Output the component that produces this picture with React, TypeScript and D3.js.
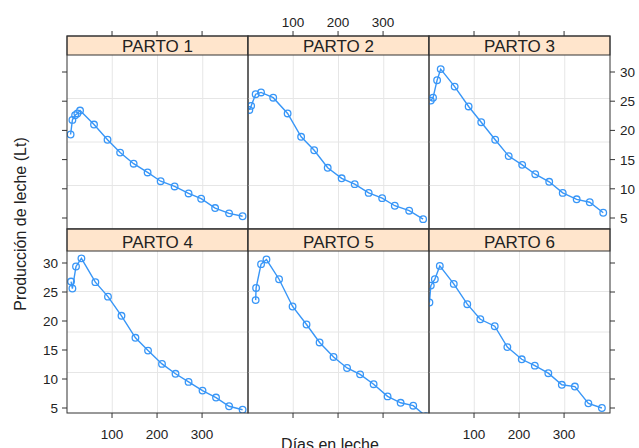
import React from "react";
import * as d3 from "d3";

// dias en leche / produccion (Lt) por parto
const parto1Dias = [8, 12, 18, 23, 29, 60, 90, 118, 148, 179, 208, 239, 270, 298, 329, 360, 390];
const parto1Leche = [19.3, 21.8, 22.6, 22.9, 23.4, 21.0, 18.4, 16.2, 14.3, 12.8, 11.3, 10.4, 9.2, 8.3, 6.7, 5.8, 5.3];
const parto2Dias = [3, 7, 17, 29, 56, 88, 118, 147, 177, 208, 237, 268, 298, 326, 358, 389];
const parto2Leche = [23.5, 24.2, 26.2, 26.5, 25.6, 22.9, 18.9, 16.6, 13.6, 11.8, 10.8, 9.3, 8.4, 7.1, 6.25, 4.8];
const parto3Dias = [4, 9, 18, 26, 57, 88, 116, 147, 177, 207, 236, 267, 297, 328, 357, 387];
const parto3Leche = [25.1, 25.6, 28.6, 30.5, 27.5, 24.1, 21.4, 18.4, 15.6, 14.1, 12.5, 11.2, 9.3, 8.2, 7.7, 5.9];
const parto4Dias = [9, 12, 20, 32, 63, 91, 121, 152, 180, 211, 241, 270, 301, 331, 360, 390];
const parto4Leche = [26.8, 25.6, 29.4, 30.8, 26.7, 24.2, 20.9, 17.1, 14.9, 12.6, 10.9, 9.5, 8.0, 6.8, 5.3, 4.7];
const parto5Dias = [17, 18, 29, 41, 69, 99, 130, 159, 190, 220, 249, 279, 310, 339, 367, 395];
const parto5Leche = [23.6, 25.7, 29.8, 30.6, 27.2, 22.5, 19.4, 16.3, 13.8, 11.9, 10.8, 9.1, 7.0, 5.9, 5.4, 3.6];
const parto6Dias = [1, 4, 13, 24, 55, 85, 114, 146, 174, 206, 235, 265, 295, 324, 354, 384];
const parto6Leche = [23.2, 26.1, 27.2, 29.5, 26.4, 22.9, 20.3, 19.1, 15.5, 13.4, 12.3, 11.0, 9.0, 8.7, 5.8, 5.0];

const partos = ["PARTO 1", "PARTO 2", "PARTO 3", "PARTO 4", "PARTO 5", "PARTO 6"];
const diasSeries = [parto1Dias, parto2Dias, parto3Dias, parto4Dias, parto5Dias, parto6Dias];
const lecheSeries = [parto1Leche, parto2Leche, parto3Leche, parto4Leche, parto5Leche, parto6Leche];

const xTicks = [100, 200, 300];
const yTicks = [5, 10, 15, 20, 25, 30];

const colX = [67, 248, 429];
const panelW = 181;
// top of strip, bottom of strip, bottom of panel for each row
const rows = [
  { stripTop: 36, top: 55, bottom: 229, y5: 218, y30: 72 },
  { stripTop: 229, top: 251, bottom: 413, y5: 408, y30: 263 },
];

const blue = "#3896f7";
const font = "Liberation Sans, Arial, sans-serif";

export default function App() {
  return (
    <svg width={639} height={448} style={{ position: "absolute", left: 0, top: 0, background: "#fff" }}>
      <defs>
        {partos.map((p, i) => {
          const r = rows[Math.floor(i / 3)];
          return (
            <clipPath id={`clip${i}`} key={p}>
              <rect x={colX[i % 3]} y={r.top} width={panelW} height={r.bottom - r.top} />
            </clipPath>
          );
        })}
      </defs>
      {partos.map((p, i) => {
        const row = Math.floor(i / 3);
        const col = i % 3;
        const r = rows[row];
        const x0 = colX[col];
        const x = d3.scaleLinear().domain([0, 402]).range([x0, x0 + panelW]);
        const y = d3.scaleLinear().domain([5, 30]).range([r.y5, r.y30]);
        const pts = diasSeries[i].map((d, k) => [d, lecheSeries[i][k]] as [number, number]);
        const line = d3
          .line<[number, number]>()
          .x(d => x(d[0]))
          .y(d => y(d[1]));
        const h = r.bottom - r.top;
        return (
          <g key={p}>
            {/* panel.grid(h = 3, v = 3) */}
            {[1, 2, 3].map(q => (
              <g key={q} stroke="#e6e6e6" strokeWidth={1}>
                <line x1={x0 + (panelW * q) / 4} x2={x0 + (panelW * q) / 4} y1={r.top} y2={r.bottom} />
                <line x1={x0} x2={x0 + panelW} y1={r.top + (h * q) / 4} y2={r.top + (h * q) / 4} />
              </g>
            ))}
            <g clipPath={`url(#clip${i})`}>
              <path d={line(pts) || ""} fill="none" stroke={blue} strokeWidth={1.4} />
              {pts.map((d, k) => (
                <circle key={k} cx={x(d[0])} cy={y(d[1])} r={3.3} fill="none" stroke={blue} strokeWidth={1.3} />
              ))}
            </g>
            <rect x={x0} y={r.stripTop} width={panelW} height={r.top - r.stripTop} fill="#ffe5cc" stroke="#333" strokeWidth={1} />
            <text
              x={x0 + panelW / 2}
              y={r.top - 3}
              textAnchor="middle"
              fontFamily={font}
              fontSize={17}
              fill="#222"
            >
              {p}
            </text>
            <rect x={x0} y={r.stripTop} width={panelW} height={r.bottom - r.stripTop} fill="none" stroke="#333" strokeWidth={1} />
            {/* ticks: top for row 0, bottom for row 1 */}
            {xTicks.map(t =>
              row === 0 ? (
                <line key={t} x1={x(t)} x2={x(t)} y1={r.stripTop} y2={r.stripTop - 5} stroke="#333" />
              ) : (
                <line key={t} x1={x(t)} x2={x(t)} y1={r.bottom} y2={r.bottom + 5} stroke="#333" />
              )
            )}
            {row === 0 && col === 1 &&
              xTicks.map(t => (
                <text key={t} x={x(t)} y={r.stripTop - 9} textAnchor="middle" fontFamily={font} fontSize={13.5} fill="#222">
                  {t}
                </text>
              ))}
            {row === 1 && col !== 1 &&
              xTicks.map(t => (
                <text key={t} x={x(t)} y={r.bottom + 26} textAnchor="middle" fontFamily={font} fontSize={13.5} fill="#222">
                  {t}
                </text>
              ))}
            {col === 0 &&
              yTicks.map(t => (
                <line key={t} x1={x0} x2={x0 - 5} y1={y(t)} y2={y(t)} stroke="#333" />
              ))}
            {col === 2 &&
              yTicks.map(t => (
                <line key={t} x1={x0 + panelW} x2={x0 + panelW + 5} y1={y(t)} y2={y(t)} stroke="#333" />
              ))}
            {col === 0 && row === 1 &&
              yTicks.map(t => (
                <text key={t} x={x0 - 9} y={y(t) + 5} textAnchor="end" fontFamily={font} fontSize={13.5} fill="#222">
                  {t}
                </text>
              ))}
            {col === 2 && row === 0 &&
              yTicks.map(t => (
                <text key={t} x={x0 + panelW + 10} y={y(t) + 5} textAnchor="start" fontFamily={font} fontSize={13.5} fill="#222">
                  {t}
                </text>
              ))}
          </g>
        );
      })}
      <text
        transform="translate(26,224) rotate(-90)"
        textAnchor="middle"
        fontFamily={font}
        fontSize={16}
        fill="#222"
      >
        Producción de leche (Lt)
      </text>
      <text x={330} y={450} textAnchor="middle" fontFamily={font} fontSize={16} fill="#222">
        Días en leche
      </text>
    </svg>
  );
}
